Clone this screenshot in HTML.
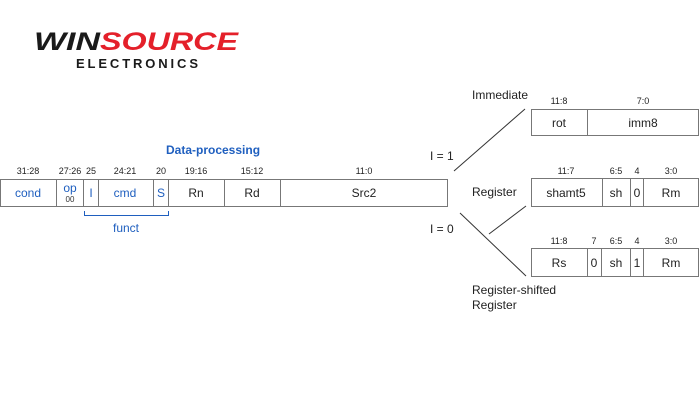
<!DOCTYPE html>
<html><head><style>
body{margin:0;background:#fff;width:700px;height:400px;overflow:hidden}
svg text{font-family:"Liberation Sans",sans-serif}
</style></head><body>
<svg width="700" height="400" viewBox="0 0 700 400">
<g font-style="italic" font-weight="bold">
<text x="34" y="50" font-size="25" fill="#1a1a1a" textLength="66" lengthAdjust="spacingAndGlyphs">WIN</text>
<text x="100" y="50" font-size="25" fill="#e4202a" textLength="138" lengthAdjust="spacingAndGlyphs">SOURCE</text>
</g>
<text x="76" y="68" font-size="13" font-weight="bold" fill="#1a1a1a" textLength="122" lengthAdjust="spacing">ELECTRONICS</text>

<text x="166" y="154" font-size="12" font-weight="bold" fill="#1f5fbf">Data-processing</text>
<g font-size="9" fill="#222" text-anchor="middle">
<text x="28" y="174">31:28</text><text x="70" y="174">27:26</text><text x="91" y="174">25</text>
<text x="125" y="174">24:21</text><text x="161" y="174">20</text><text x="196" y="174">19:16</text>
<text x="252" y="174">15:12</text><text x="364" y="174">11:0</text>
</g>
<g fill="none" stroke="#777" stroke-width="1">
<rect x="0.5" y="179.5" width="447" height="27"/>
<path d="M56.5 180V206M83.5 180V206M98.5 180V206M153.5 180V206M168.5 180V206M224.5 180V206M280.5 180V206"/>
</g>
<g font-size="12" text-anchor="middle" fill="#1f5fbf">
<text x="28" y="197">cond</text><text x="70" y="192">op</text>
<text x="70" y="202" font-size="8" fill="#333">00</text>
<text x="91" y="197">I</text><text x="125" y="197">cmd</text><text x="161" y="197">S</text>
</g>
<g font-size="12" text-anchor="middle" fill="#222">
<text x="196" y="197">Rn</text><text x="252" y="197">Rd</text><text x="364" y="197">Src2</text>
</g>
<path d="M84.5 211V215.5H168.5V211" fill="none" stroke="#1f5fbf"/>
<text x="126" y="232" font-size="12" fill="#1f5fbf" text-anchor="middle">funct</text>

<g font-size="12" fill="#222">
<text x="430" y="160">I = 1</text><text x="430" y="233">I = 0</text>
<text x="472" y="99">Immediate</text><text x="472" y="196">Register</text>
<text x="472" y="294">Register-shifted</text><text x="472" y="309">Register</text>
</g>
<g stroke="#333" stroke-width="1">
<line x1="454" y1="171" x2="525" y2="109"/>
<line x1="489" y1="234" x2="526" y2="206"/>
<line x1="460" y1="213" x2="526" y2="276"/>
</g>
<g fill="none" stroke="#777">
<rect x="531.5" y="109.5" width="167" height="26"/><path d="M587.5 110V135"/>
<rect x="531.5" y="178.5" width="167" height="28"/><path d="M602.5 179V206M630.5 179V206M643.5 179V206"/>
<rect x="531.5" y="248.5" width="167" height="28"/><path d="M587.5 249V276M601.5 249V276M630.5 249V276M643.5 249V276"/>
</g>
<g font-size="9" fill="#222" text-anchor="middle">
<text x="559" y="104">11:8</text><text x="643" y="104">7:0</text>
<text x="566" y="174">11:7</text><text x="616" y="174">6:5</text><text x="637" y="174">4</text><text x="671" y="174">3:0</text>
<text x="559" y="244">11:8</text><text x="594" y="244">7</text><text x="616" y="244">6:5</text><text x="637" y="244">4</text><text x="671" y="244">3:0</text>
</g>
<g font-size="12" fill="#222" text-anchor="middle">
<text x="559" y="127">rot</text><text x="643" y="127">imm8</text>
<text x="566" y="197">shamt5</text><text x="616" y="197">sh</text><text x="637" y="197">0</text><text x="671" y="197">Rm</text>
<text x="559" y="267">Rs</text><text x="594" y="267">0</text><text x="616" y="267">sh</text><text x="637" y="267">1</text><text x="671" y="267">Rm</text>
</g>
</svg>
</body></html>
